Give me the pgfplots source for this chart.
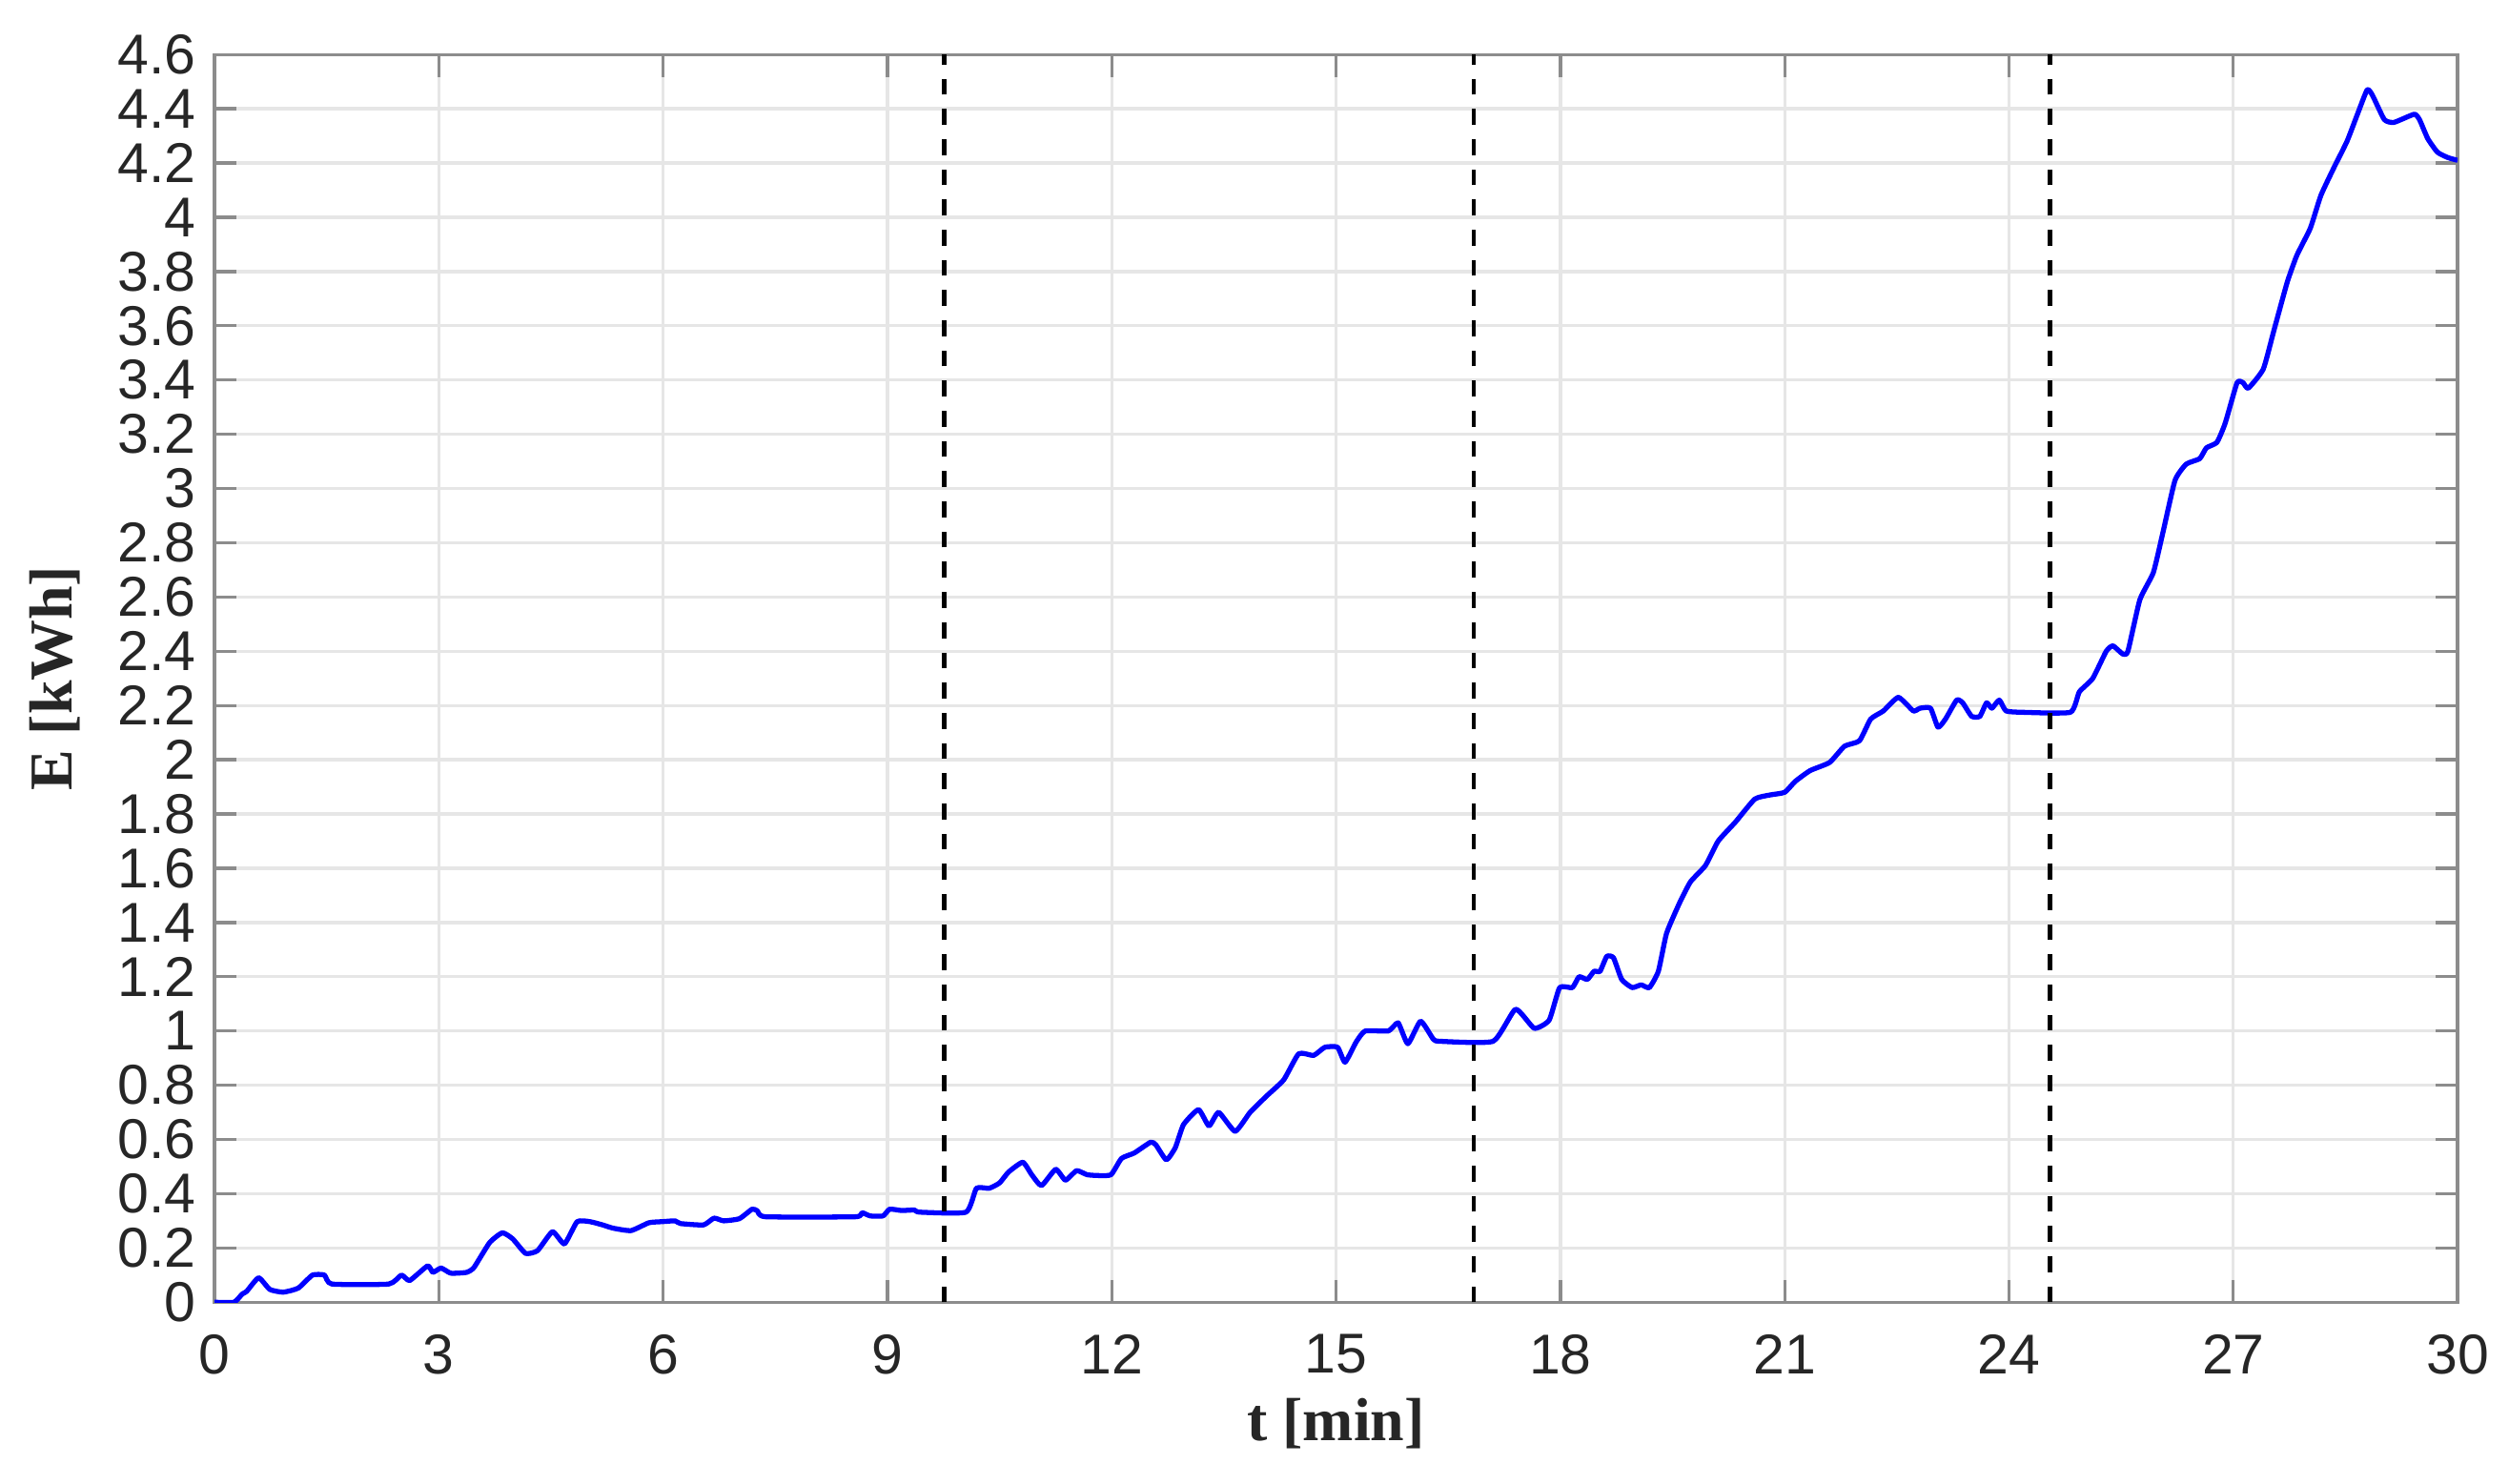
\documentclass[border=0pt]{standalone}
\usepackage{fontspec}
\setmainfont{Liberation Sans}
\newfontfamily\labelfont{Liberation Serif}
\usepackage{pgfplots}
\pgfplotsset{compat=1.18}
\definecolor{ticktext}{RGB}{38,38,38}
\definecolor{axgray}{RGB}{140,140,140}
\definecolor{gridgray}{RGB}{230,230,230}

\pgfplotstableread{
t E
0 0
0.26 0
0.37 0.03
0.43 0.04
0.59 0.09
0.74 0.047
0.92 0.037
1.12 0.052
1.31 0.10
1.47 0.10
1.57 0.067
2.33 0.067
2.50 0.10
2.61 0.08
2.85 0.134
2.92 0.11
3.03 0.126
3.16 0.107
3.37 0.11
3.47 0.128
3.68 0.22
3.85 0.256
3.99 0.233
4.16 0.18
4.32 0.19
4.52 0.26
4.68 0.215
4.85 0.297
5.02 0.297
5.19 0.285
5.33 0.273
5.57 0.264
5.81 0.293
5.99 0.297
6.16 0.30
6.23 0.29
6.54 0.285
6.68 0.31
6.81 0.30
7.02 0.308
7.19 0.343
7.26 0.337
7.37 0.315
8.57 0.315
8.66 0.33
8.77 0.318
8.94 0.318
9.03 0.343
9.19 0.338
9.36 0.340
9.43 0.332
10.05 0.332
10.19 0.42
10.36 0.42
10.50 0.44
10.62 0.48
10.81 0.516
10.93 0.47
11.06 0.43
11.25 0.49
11.38 0.45
11.53 0.485
11.67 0.47
11.82 0.467
11.99 0.47
12.13 0.53
12.30 0.55
12.52 0.59
12.59 0.58
12.73 0.525
12.85 0.57
12.96 0.655
13.16 0.71
13.30 0.65
13.43 0.70
13.65 0.63
13.85 0.70
14.07 0.76
14.30 0.82
14.50 0.916
14.70 0.91
14.85 0.94
15.02 0.94
15.12 0.885
15.27 0.96
15.39 1.0
15.70 1.0
15.83 1.03
15.96 0.953
16.13 1.036
16.30 0.97
16.39 0.962
17.10 0.962
17.40 1.08
17.65 1.01
17.85 1.04
17.99 1.16
18.16 1.16
18.25 1.20
18.36 1.19
18.45 1.22
18.53 1.22
18.62 1.275
18.71 1.27
18.82 1.19
18.96 1.16
19.08 1.17
19.19 1.16
19.31 1.22
19.42 1.36
19.59 1.47
19.74 1.55
19.94 1.61
20.11 1.70
20.34 1.77
20.60 1.855
20.80 1.87
21.0 1.88
21.14 1.92
21.34 1.96
21.60 1.99
21.80 2.05
22.0 2.07
22.15 2.15
22.32 2.18
22.52 2.23
22.72 2.18
22.81 2.19
22.95 2.19
23.05 2.12
23.15 2.15
23.30 2.22
23.38 2.21
23.50 2.16
23.61 2.16
23.70 2.21
23.77 2.19
23.87 2.22
23.96 2.18
24.18 2.175
24.82 2.175
24.94 2.25
25.12 2.30
25.30 2.40
25.39 2.42
25.52 2.39
25.59 2.40
25.75 2.59
25.93 2.69
26.06 2.84
26.22 3.03
26.37 3.09
26.55 3.11
26.64 3.15
26.78 3.17
26.89 3.24
27.05 3.39
27.13 3.39
27.20 3.37
27.40 3.44
27.54 3.58
27.72 3.76
27.85 3.86
28.03 3.96
28.17 4.08
28.34 4.18
28.52 4.28
28.66 4.38
28.79 4.47
28.86 4.45
29.02 4.36
29.15 4.35
29.42 4.38
29.49 4.36
29.60 4.29
29.73 4.24
29.87 4.22
30 4.21
}\energy

\begin{document}
\begin{tikzpicture}
\begin{axis}[
    scale only axis,
    width=423.5pt, height=235.6pt,
    xmin=0, xmax=30, ymin=0, ymax=4.6,
    xtick={0,3,...,30},
    ytick={0,0.2,0.4,0.6,0.8,1,1.2,1.4,1.6,1.8,2,2.2,2.4,2.6,2.8,3,3.2,3.4,3.6,3.8,4,4.2,4.4,4.6},
    tick align=inside, tick pos=both,
    major tick length=4.2pt,
    every tick/.style={axgray, line width=0.6pt},
    axis line style={axgray, line width=0.6pt},
    grid=major,
    grid style={gridgray, line width=0.6pt},
    /pgf/number format/assume math mode=true,
    ticklabel style={font=\fontsize{10.6}{12}\selectfont, text=ticktext},
    x tick label style={yshift=-2.6pt},
    xlabel={t [min]}, ylabel={E [kWh]},
    label style={font=\labelfont\bfseries\fontsize{11.5}{13}\selectfont, text=ticktext},
    xlabel style={at={([yshift=-23pt]axis description cs:0.5,0)}, anchor=center},
    ylabel style={at={([xshift=-30.2pt]axis description cs:0,0.5)}, anchor=center},
]
\addplot[blue, line width=0.95pt, line join=round, smooth, tension=0.3] table[x=t, y=E] {\energy};
\addplot[black, line width=0.8pt, dash pattern=on 3pt off 2.7pt] coordinates {(9.76,0) (9.76,4.6)};
\addplot[black, line width=0.8pt, dash pattern=on 3pt off 2.7pt] coordinates {(16.84,0) (16.84,4.6)};
\addplot[black, line width=0.8pt, dash pattern=on 3pt off 2.7pt] coordinates {(24.55,0) (24.55,4.6)};
\end{axis}
\pgfresetboundingbox
\path[use as bounding box] ([xshift=-40.5pt,yshift=-34.2pt]current axis.south west) rectangle ([xshift=9.7pt,yshift=10.3pt]current axis.north east);
\end{tikzpicture}
\end{document}
